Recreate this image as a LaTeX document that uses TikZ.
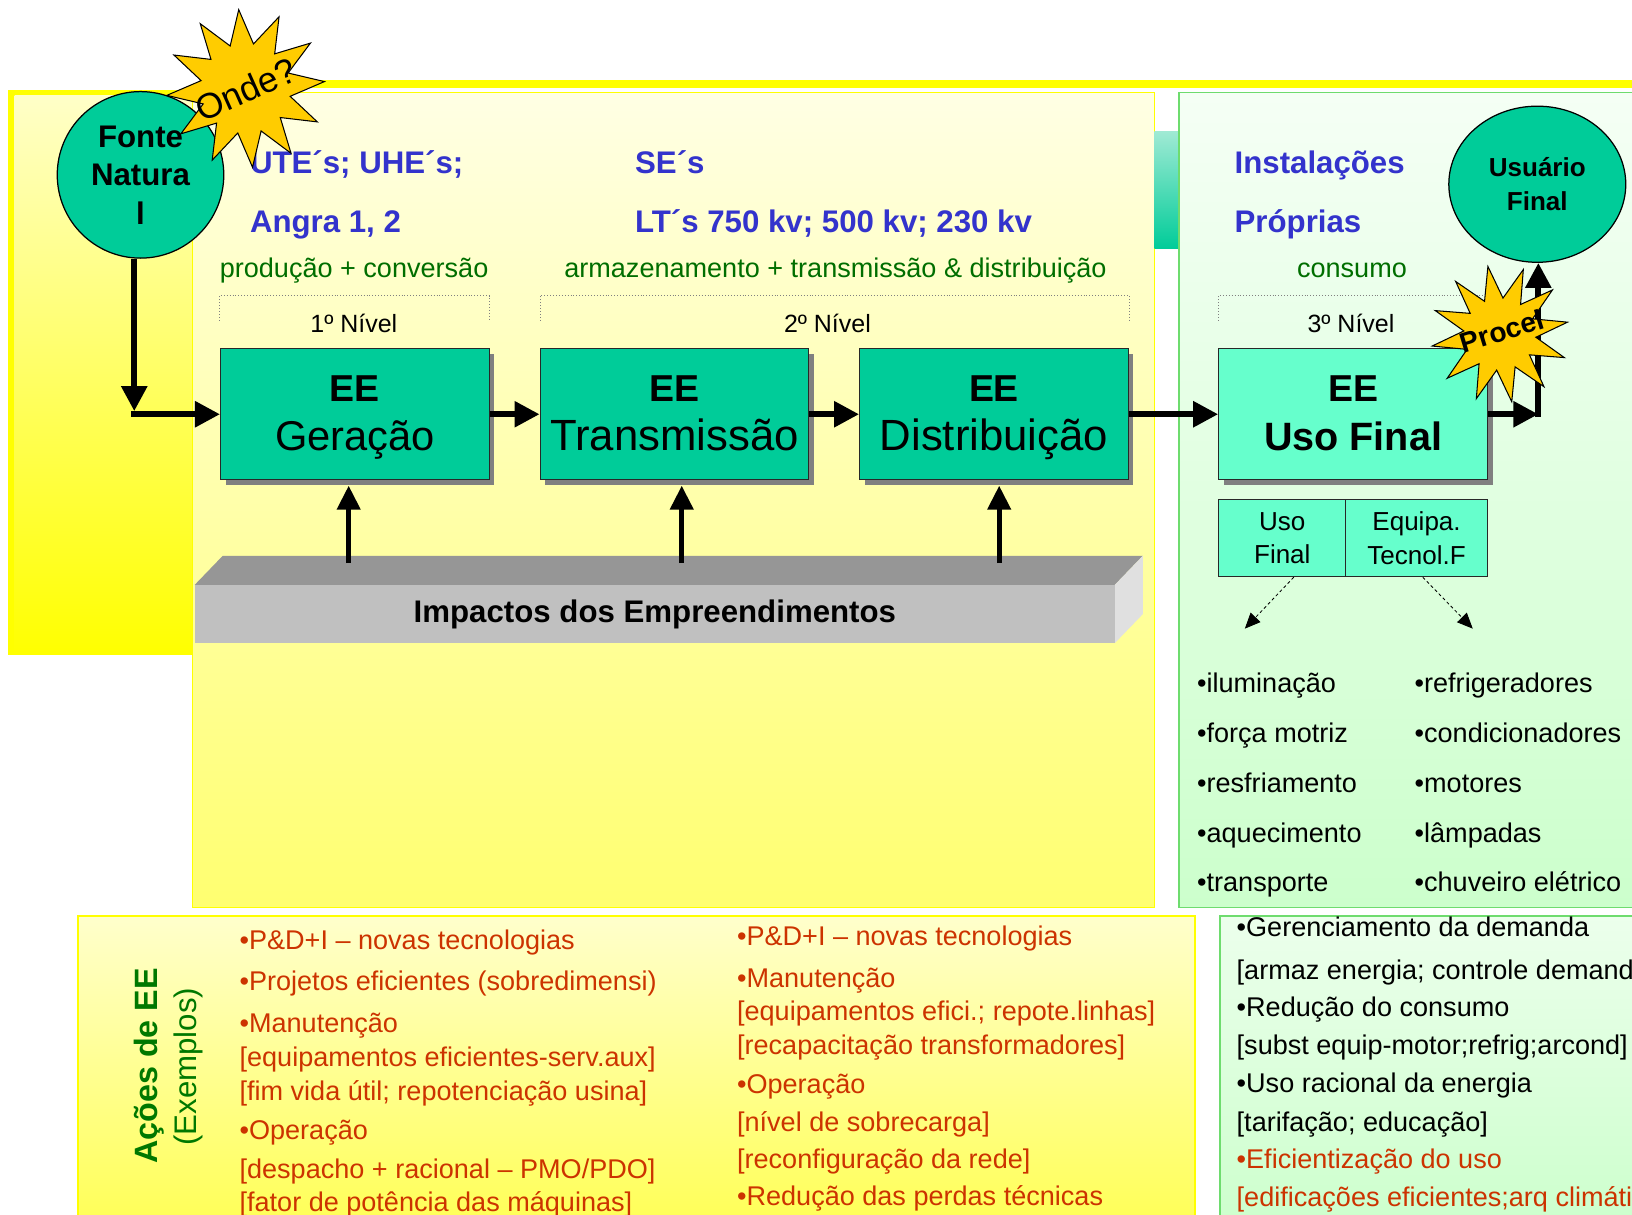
\documentclass[tikz,border=0pt]{standalone}
\usepackage{fontspec}
\setmainfont{Liberation Sans}
\usetikzlibrary{arrows.meta,shapes.geometric,shadows,calc}
\definecolor{eeTeal}{RGB}{0,204,153}
\definecolor{eeLight}{RGB}{102,255,204}
\definecolor{starY}{RGB}{255,204,0}
\definecolor{txtBlue}{RGB}{51,51,204}
\definecolor{txtGreen}{RGB}{0,110,0}
\definecolor{actGreen}{RGB}{0,120,0}
\definecolor{txtRed}{RGB}{204,51,0}
\definecolor{pGreen}{RGB}{110,220,110}
\definecolor{pYellow}{RGB}{255,255,0}
\definecolor{shadowGray}{RGB}{128,128,128}
\definecolor{barTop}{RGB}{150,150,150}
\definecolor{barFront}{RGB}{192,192,192}
\definecolor{barSide}{RGB}{224,224,224}
\definecolor{boxLine}{RGB}{40,40,40}
\definecolor{leftTop}{RGB}{255,255,200}
\definecolor{midTop}{RGB}{255,255,228}
\definecolor{midBot}{RGB}{255,255,112}
\definecolor{stripTop}{RGB}{160,234,212}
\definecolor{rTop}{RGB}{245,255,245}
\definecolor{rTopB}{RGB}{236,255,236}
\definecolor{rBot}{RGB}{204,255,204}
\definecolor{blTop}{RGB}{255,255,204}
\definecolor{blBot}{RGB}{255,255,85}
\newcommand{\fsz}[2]{\fontsize{#1pt}{#2pt}\selectfont}
\newcommand{\topline}{\rule{0pt}{32pt}}
\newcommand{\botline}{\rule[-9pt]{0pt}{9pt}}
\tikzset{
 mainbox/.style={draw=boxLine, line width=1.3pt, fill=eeTeal, minimum width=258pt, minimum height=126pt, inner sep=0pt, align=center, drop shadow={shadow xshift=5pt, shadow yshift=-5pt, fill=shadowGray, opacity=1}},
 smallbox/.style={draw=boxLine, line width=1.2pt, fill=eeLight, minimum height=74pt, inner sep=0pt, align=center, font=\fsz{25}{32}},
 bigarrow/.style={line width=5.5pt, -{Triangle[length=24pt,width=24pt]}},
 imparrow/.style={line width=4.5pt, -{Triangle[length=23pt,width=22pt]}},
 dasharrow/.style={line width=0.8pt, dash pattern=on 3pt off 2.5pt, -{Triangle[length=15pt,width=13pt]}},
 bracket/.style={draw=gray, line width=0.8pt, dotted},
 bluetxt/.style={text=txtBlue, font=\bfseries\fsz{30}{30}, anchor=base west, inner sep=0pt},
 greentxt/.style={text=txtGreen, font=\fsz{26}{26}, anchor=base west, inner sep=0pt},
 lvltxt/.style={font=\fsz{24}{24}, anchor=base, inner sep=0pt},
 listtxt/.style={font=\fsz{26}{26}, anchor=base west, inner sep=0pt},
 redtxt/.style={text=txtRed, font=\fsz{26}{26}, anchor=base west, inner sep=0pt},
 blktxt/.style={text=black, font=\fsz{26}{26}, anchor=base west, inner sep=0pt},
 burst/.style={star, star points=12, fill=starY, draw=black, line width=1pt, inner sep=0pt},
}
\begin{document}
\begin{tikzpicture}[x=1pt,y=-1pt]
\useasboundingbox (0,0) rectangle (1568,1167);
\clip (0,0) rectangle (1568,1167);
\fill[white] (0,0) rectangle (1568,1167);
% panels
\fill[pYellow] (200,77) rectangle (1568,85);
\fill[pYellow] (8,86) rectangle (190,629);
\shade[top color=leftTop, bottom color=pYellow] (14,92) rectangle (190,629);
\shadedraw[top color=midTop, bottom color=midBot, draw=pYellow, line width=1.2pt] (185,89) rectangle (1109,872);
\shade[top color=stripTop, bottom color=eeTeal] (1109,126) rectangle (1133,239);
\shadedraw[top color=rTop, bottom color=rBot, draw=pGreen, line width=1.5pt] (1133,89) rectangle (1580,872);
\shadedraw[top color=blTop, bottom color=blBot, draw=pYellow, line width=1.5pt] (75,880) rectangle (1148,1180);
\shadedraw[top color=rTopB, bottom color=rBot, draw=pGreen, line width=1.5pt] (1172,880) rectangle (1580,1180);
% headings
\node[bluetxt] (ute) at (240,167) {UTE´s; UHE´s;};
\node[bluetxt] (angra) at (240,223) {Angra 1, 2};
\node[bluetxt] (ses) at (610,167) {SE´s};
\node[bluetxt] (lts) at (610,223) {LT´s 750 kv; 500 kv; 230 kv};
\node[bluetxt] (inst) at (1186,167) {Instalações};
\node[bluetxt] (prop) at (1186,223) {Próprias};
\node[greentxt] (prod) at (211,267) {produção + conversão};
\node[greentxt] (arm) at (542,267) {armazenamento + transmissão \& distribuição};
\node[greentxt] (cons) at (1246,267) {consumo};
% brackets
\draw[bracket] (211,308) -- (211,284) -- (470,284) -- (470,308);
\draw[bracket] (519,308) -- (519,284) -- (1085,284) -- (1085,308);
\draw[bracket] (1171,308) -- (1171,284) -- (1429,284) -- (1429,308);
\node[lvltxt] (n1) at (340,319) {1º Nível};
\node[lvltxt] (n2) at (795,319) {2º Nível};
\node[lvltxt] (n3) at (1298,319) {3º Nível};
% impact bar
\fill[barTop] (187,562) -- (214,534) -- (1098,534) -- (1071,562) -- cycle;
\fill[barSide] (1071,562) -- (1098,534) -- (1098,590) -- (1071,618) -- cycle;
\node[fill=barFront, minimum width=884pt, minimum height=56pt, inner sep=0pt, anchor=north west, font=\bfseries\fsz{30}{30}] (imp) at (187,562) {Impactos dos Empreendimentos};
% boxes
\node[mainbox, font=\fsz{40}{47}] (gen) at (341,398) {{\bfseries\fsz{36}{47}\topline EE}\\Geração\botline};
\node[mainbox, font=\fsz{42}{47}] (trans) at (648,398) {{\bfseries\fsz{36}{47}\topline EE}\\Transmissão\botline};
\node[mainbox, font=\fsz{42}{47}] (dist) at (955,398) {{\bfseries\fsz{36}{47}\topline EE}\\Distribuição\botline};
\node[mainbox, fill=eeLight, font=\bfseries\fsz{38}{47}] (uf) at (1300,398) {{\fsz{36}{47}\topline EE}\\Uso Final\botline};
\node[smallbox, minimum width=122pt] (suf) at (1232,517) {Uso\\Final};
\node[smallbox, minimum width=136pt] (seq) at (1361,517) {Equipa.\\Tecnol.F};
% circles
\node[circle, minimum size=160pt, fill=eeTeal, draw=black, line width=1.2pt, inner sep=0pt, align=center, font=\bfseries\fsz{30}{37}] (fonte) at (135,168) {Fonte\\Natura\\l};
\node[ellipse, minimum width=170pt, minimum height=150pt, fill=eeTeal, draw=black, line width=1.2pt, inner sep=0pt, align=center, font=\bfseries\fsz{25}{32}] (user) at (1477,177) {Usuário\\Final};
% impact arrows
\coordinate (i1) at (335,541);
\coordinate (i2) at (655,541);
\coordinate (i3) at (960,541);
\draw[imparrow, shorten >=5pt] (i1) -- (i1 |- gen.south);
\draw[imparrow, shorten >=5pt] (i2) -- (i2 |- trans.south);
\draw[imparrow, shorten >=5pt] (i3) -- (i3 |- dist.south);
% main arrows
\coordinate (fc) at (129,398);
\draw[bigarrow] (fonte.south -| fc) -- ([yshift=3pt]fc);
\draw[bigarrow] ([xshift=-2.75pt]fc) -- (gen.west);
\draw[bigarrow] (gen.east) -- (trans.west);
\draw[bigarrow] (trans.east) -- (dist.west);
\draw[bigarrow] (dist.east) -- (uf.west);
\coordinate (uc) at (1478,398);
\draw[bigarrow] (uf.east) -- (uc);
\draw[bigarrow] ([yshift=-2.75pt]uc) -- (user.south -| uc);
% dashed arrows
\coordinate (d1) at (1196,604);
\coordinate (d2) at (1415,604);
\draw[dasharrow] ($(suf.south)+(11,0)$) -- (d1);
\draw[dasharrow] ($(seq.south)+(6,0)$) -- (d2);
% stars
\node[burst, minimum size=152pt, star point ratio=1.75, shape border rotate=5] (ondeStar) at (236,85) {};
\node[rotate=24, font=\fsz{34}{34}, inner sep=0pt] (onde) at (236,86) {Onde?};
\node[burst, minimum size=132pt, star point ratio=1.9, shape border rotate=10] (procelStar) at (1441,321) {};
\node[rotate=17, font=\bfseries\fsz{27}{27}, inner sep=0pt] (procel) at (1443,318) {Procel};
% lists
\node[listtxt] (a1) at (1150,665) {•iluminação};
\node[listtxt] (a2) at (1150,713) {•força motriz};
\node[listtxt] (a3) at (1150,761) {•resfriamento};
\node[listtxt] (a4) at (1150,809) {•aquecimento};
\node[listtxt] (a5) at (1150,857) {•transporte};
\node[listtxt] (b1) at (1359,665) {•refrigeradores};
\node[listtxt] (b2) at (1359,713) {•condicionadores};
\node[listtxt] (b3) at (1359,761) {•motores};
\node[listtxt] (b4) at (1359,809) {•lâmpadas};
\node[listtxt] (b5) at (1359,857) {•chuveiro elétrico};
% actions
\node[rotate=90, anchor=base, inner sep=0pt, text=actGreen, font=\bfseries\fsz{31}{31}] (acoes) at (151,1024) {Ações de EE};
\node[rotate=90, anchor=base, inner sep=0pt, text=actGreen, font=\fsz{30}{30}] (exemplos) at (189,1025) {(Exemplos)};
\node[redtxt] (r1) at (230,912) {•P\&D+I – novas tecnologias};
\node[redtxt] (r2) at (230,952) {•Projetos eficientes (sobredimensi)};
\node[redtxt] (r3) at (230,992) {•Manutenção};
\node[redtxt] (r4) at (230,1025) {[equipamentos eficientes-serv.aux]};
\node[redtxt] (r5) at (230,1057) {[fim vida útil; repotenciação usina]};
\node[redtxt] (r6) at (230,1095) {•Operação};
\node[redtxt] (r7) at (230,1132) {[despacho + racional – PMO/PDO]};
\node[redtxt] (r8) at (230,1164) {[fator de potência das máquinas]};
\node[redtxt] (m1) at (708,908) {•P\&D+I – novas tecnologias};
\node[redtxt] (m2) at (708,949) {•Manutenção};
\node[redtxt] (m3) at (708,980) {[equipamentos efici.; repote.linhas]};
\node[redtxt] (m4) at (708,1013) {[recapacitação transformadores]};
\node[redtxt] (m5) at (708,1051) {•Operação};
\node[redtxt] (m6) at (708,1087) {[nível de sobrecarga]};
\node[redtxt] (m7) at (708,1123) {[reconfiguração da rede]};
\node[redtxt] (m8) at (708,1158) {•Redução das perdas técnicas};
\node[blktxt] (g1) at (1188,900) {•Gerenciamento da demanda};
\node[blktxt] (g2) at (1188,941) {[armaz energia; controle demand};
\node[blktxt] (g3) at (1188,977) {•Redução do consumo};
\node[blktxt] (g4) at (1188,1013) {[subst equip-motor;refrig;arcond]};
\node[blktxt] (g5) at (1188,1050) {•Uso racional da energia};
\node[blktxt] (g6) at (1188,1087) {[tarifação; educação]};
\node[redtxt] (g7) at (1188,1123) {•Eficientização do uso};
\node[redtxt] (g8) at (1188,1159) {[edificações eficientes;arq climáti};
\end{tikzpicture}
\end{document}
